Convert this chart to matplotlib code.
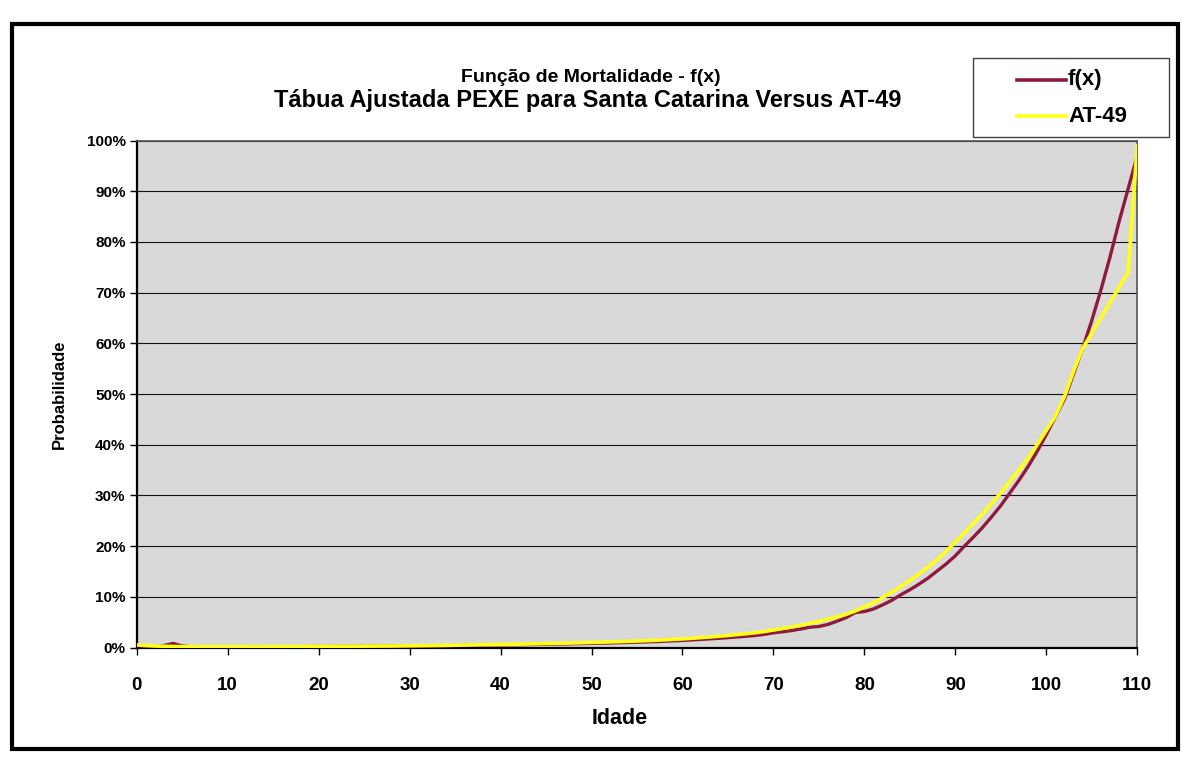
import matplotlib
matplotlib.use("Agg")
import matplotlib.pyplot as plt
from matplotlib.ticker import FuncFormatter, MultipleLocator
from matplotlib.patches import Rectangle
from matplotlib.lines import Line2D

plt.rcParams['font.family'] = ['Liberation Sans', 'DejaVu Sans']

ages = list(range(0, 111))

# f(x) in percent
fx = [0.40, 0.20, 0.15, 0.40, 0.80, 0.30, 0.12, 0.10, 0.10, 0.10,
      0.10, 0.10, 0.11, 0.12, 0.13, 0.14, 0.15, 0.16, 0.17, 0.18,
      0.19, 0.20, 0.21, 0.22, 0.23, 0.24, 0.25, 0.26, 0.27, 0.28,
      0.29, 0.30, 0.32, 0.34, 0.36, 0.38, 0.40, 0.42, 0.44, 0.46,
      0.49, 0.52, 0.55, 0.58, 0.61, 0.64, 0.67, 0.70, 0.74, 0.78,
      0.82, 0.86, 0.90, 0.95, 1.00, 1.05, 1.11, 1.17, 1.24, 1.32,
      1.40, 1.50, 1.60, 1.71, 1.82, 1.95, 2.08, 2.22, 2.38, 2.60,
      2.90, 3.10, 3.35, 3.65, 4.00, 4.15, 4.55, 5.20, 5.90, 6.90,
      7.10, 7.60, 8.40, 9.30, 10.40, 11.40, 12.50, 13.70, 15.10, 16.50,
      18.10, 20.00, 21.80, 23.70, 25.80, 28.00, 30.50, 33.00, 35.70, 38.70,
      42.00, 45.50, 49.00, 54.00, 59.00, 64.50, 70.50, 77.00, 84.00, 90.50,
      97.00]

# AT-49 in percent
at49 = [0.50, 0.40, 0.30, 0.25, 0.20, 0.18, 0.16, 0.15, 0.14, 0.14,
        0.14, 0.14, 0.15, 0.15, 0.16, 0.17, 0.18, 0.19, 0.20, 0.21,
        0.22, 0.23, 0.24, 0.25, 0.26, 0.27, 0.28, 0.29, 0.30, 0.32,
        0.34, 0.36, 0.38, 0.40, 0.42, 0.45, 0.48, 0.51, 0.54, 0.57,
        0.60, 0.63, 0.66, 0.70, 0.74, 0.78, 0.82, 0.86, 0.90, 0.95,
        1.00, 1.05, 1.10, 1.16, 1.22, 1.28, 1.35, 1.42, 1.50, 1.60,
        1.70, 1.82, 1.95, 2.08, 2.22, 2.38, 2.55, 2.73, 2.92, 3.15,
        3.45, 3.75, 4.05, 4.40, 4.75, 5.15, 5.60, 6.05, 6.55, 7.20,
        8.00, 8.80, 9.80, 10.90, 12.00, 13.20, 14.50, 15.90, 17.30, 19.00,
        20.80, 22.60, 24.50, 26.40, 28.40, 30.50, 32.70, 35.00, 37.30, 40.00,
        42.80, 45.60, 49.50, 54.50, 59.00, 62.00, 65.00, 68.00, 71.00, 74.00,
        99.00]

series_names = ["f(x)", "AT-49"]
series_colors = ["#8e1a3c", "#ffff1a"]
title_lines = ["Função de Mortalidade - f(x)",
               "Tábua Ajustada PEXE para Santa Catarina Versus AT-49"]
x_label = "Idade"
y_label = "Probabilidade"

W, H = 1184, 760
fig = plt.figure(figsize=(W / 100, H / 100), dpi=100)
fig.patch.set_facecolor("white")

def fx_(px):
    return px / W

def fy_(py):
    return 1 - py / H

# outer chart border
fig.patches.append(Rectangle((0.010, 0.015), 0.985, 0.953, transform=fig.transFigure,
                             fill=False, edgecolor="black", linewidth=3.0))

ax = fig.add_axes([0.1155, 0.148, 0.845, 0.667])
ax.set_facecolor("#d9d9d9")

ax.plot(ages, fx, color=series_colors[0], linewidth=2.4, label=series_names[0], zorder=3)
ax.plot(ages, at49, color=series_colors[1], linewidth=2.6, label=series_names[1], zorder=4)

ax.set_xlim(0, 110)
ax.set_ylim(0, 100)
ax.xaxis.set_major_locator(MultipleLocator(10))
ax.yaxis.set_major_locator(MultipleLocator(10))
ax.yaxis.set_major_formatter(FuncFormatter(lambda v, p: f"{int(round(v))}%"))
ax.grid(axis="y", color="#111111", linewidth=0.8)
ax.set_axisbelow(True)

for s in ["left", "bottom"]:
    ax.spines[s].set_color("black")
    ax.spines[s].set_linewidth(1.6)
for s in ["top", "right"]:
    ax.spines[s].set_color("#555555")
    ax.spines[s].set_linewidth(1.2)

ax.tick_params(axis="both", direction="out", length=5, width=1, colors="black")
ax.tick_params(axis="x", pad=16, labelsize=13.5)
ax.tick_params(axis="y", pad=3, labelsize=11)
for lab in ax.get_xticklabels() + ax.get_yticklabels():
    lab.set_fontweight("bold")

ax.set_xlabel(x_label, fontsize=15.5, fontweight="bold")
ax.xaxis.set_label_coords(0.483, -0.12)
ax.set_ylabel(y_label, fontsize=12, fontweight="bold", labelpad=14)

fig.text(0.499, fy_(77), title_lines[0], ha="center", va="center",
         fontsize=14, fontweight="bold")
fig.text(0.496, fy_(101), title_lines[1], ha="center", va="center",
         fontsize=17, fontweight="bold")

# legend box (drawn like the Excel legend: wide left margin before the line samples)
fig.patches.append(Rectangle((fx_(973), fy_(137)), fx_(1169) - fx_(973), fy_(58) - fy_(137),
                             transform=fig.transFigure, facecolor="white",
                             edgecolor="#444444", linewidth=1.0, zorder=5))
for i, (name, col) in enumerate(zip(series_names, series_colors)):
    yy = fy_(80 + 36 * i)
    fig.lines.append(Line2D([fx_(1017), fx_(1066)], [yy, yy], transform=fig.transFigure,
                            color=col, linewidth=2.6, zorder=6))
    fig.text(fx_(1068), yy, name, ha="left", va="center", fontsize=16,
             fontweight="bold", zorder=7)

fig.savefig("out.png", dpi=100)
